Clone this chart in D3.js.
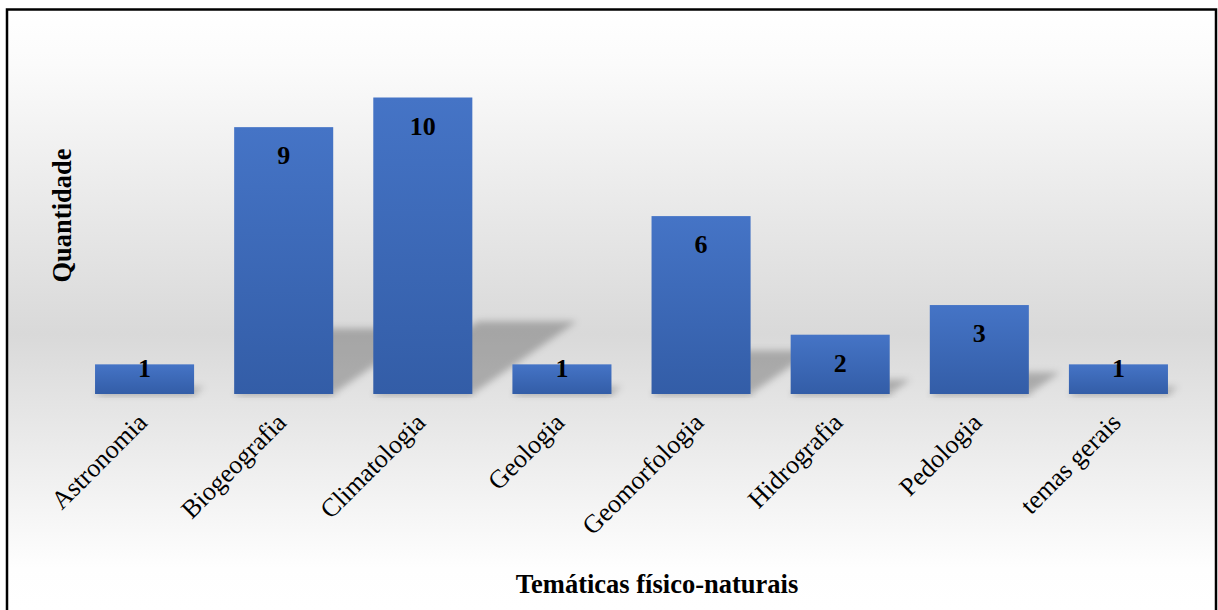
<!DOCTYPE html>
<html>
<head>
<meta charset="utf-8">
<script src="https://cdn.jsdelivr.net/npm/d3@7"></script>
<style>
  html, body { margin: 0; padding: 0; background: #ffffff; }
  svg { display: block; }
  text { font-family: "Liberation Serif", "Times New Roman", serif; fill: #000; }
</style>
</head>
<body>
<svg id="chart" width="1218" height="610"></svg>
<script>
// Número de trabalhos por temática físico-natural
const categories = ["Astronomia", "Biogeografia", "Climatologia", "Geologia",
                    "Geomorfologia", "Hidrografia", "Pedologia", "temas gerais"];
const quantities = [1, 9, 10, 1, 6, 2, 3, 1];
const xTitle = "Temáticas físico-naturais";
const yTitle = "Quantidade";

const svg = d3.select("#chart");
const W = 1218, H = 610;
const frame = { left: 7, top: 9.5, right: 1216 };
const base = 394;

const defs = svg.append("defs");

// Chart area background: white at the top, grey band near the bars, white again below
const bg = defs.append("linearGradient")
  .attr("id", "bgGrad").attr("gradientUnits", "userSpaceOnUse")
  .attr("x1", 0).attr("x2", 0).attr("y1", frame.top).attr("y2", H);
bg.append("stop").attr("offset", 0).attr("stop-color", "#ffffff");
bg.append("stop").attr("offset", 0.09).attr("stop-color", "#fbfbfb");
bg.append("stop").attr("offset", 0.54).attr("stop-color", "#d9d9d9");
bg.append("stop").attr("offset", 0.93).attr("stop-color", "#fefefe");
bg.append("stop").attr("offset", 1).attr("stop-color", "#ffffff");

// Bar fill: lighter blue on top, deeper at the base
const barGrad = defs.append("linearGradient")
  .attr("id", "barGrad").attr("x1", 0).attr("x2", 0).attr("y1", 0).attr("y2", 1);
barGrad.append("stop").attr("offset", 0).attr("stop-color", "#4574c6");
barGrad.append("stop").attr("offset", 1).attr("stop-color", "#335da7");

const blur = defs.append("filter").attr("id", "shadowBlur")
  .attr("x", "-30%").attr("y", "-30%").attr("width", "160%").attr("height", "160%");
blur.append("feGaussianBlur").attr("stdDeviation", 3.5);

svg.append("rect")
  .attr("x", frame.left).attr("y", frame.top)
  .attr("width", frame.right - frame.left).attr("height", H)
  .attr("fill", "url(#bgGrad)")
  .attr("stroke", "#000").attr("stroke-width", 2.5);

const x = d3.scaleBand()
  .domain(categories)
  .range([75, 1188])
  .paddingInner(0.288)
  .paddingOuter(0.144);

const y = d3.scaleLinear().domain([0, 10]).range([base, 97.5]);

const data = categories.map((c, i) => ({ cat: c, val: quantities[i] }));

// Perspective shadows cast up and to the right of each bar
const shadowRise = 0.245, shadowSlant = 1.44;
svg.append("g").attr("filter", "url(#shadowBlur)")
  .selectAll("path").data(data).join("path")
  .attr("d", d => {
    const x0 = x(d.cat), x1 = x0 + x.bandwidth();
    const h = base - y(d.val);
    const sh = h * shadowRise, dx = sh * shadowSlant;
    return `M${x0},${base} L${x1},${base} L${x1 + dx},${base - sh} L${x0 + dx},${base - sh} Z`;
  })
  .attr("fill", "#000").attr("fill-opacity", 0.24);

// Soft line under each bar
svg.append("g").attr("filter", "url(#shadowBlur)")
  .selectAll("rect").data(data).join("rect")
  .attr("x", d => x(d.cat) + 2)
  .attr("y", base - 2)
  .attr("width", x.bandwidth())
  .attr("height", 4)
  .attr("fill", "#000").attr("fill-opacity", 0.12);

svg.append("g")
  .selectAll("rect").data(data).join("rect")
  .attr("x", d => x(d.cat))
  .attr("y", d => y(d.val))
  .attr("width", x.bandwidth())
  .attr("height", d => base - y(d.val))
  .attr("fill", "url(#barGrad)");

// Value labels at the inside end of each bar
svg.append("g")
  .selectAll("text").data(data).join("text")
  .attr("x", d => x(d.cat) + x.bandwidth() / 2)
  .attr("y", d => Math.min(y(d.val) + 37, base - 17))
  .attr("text-anchor", "middle")
  .attr("font-size", 26)
  .attr("font-weight", "bold")
  .text(d => d.val);

// Category axis with labels rotated 45°
const xAxis = svg.append("g")
  .attr("transform", `translate(0,${base})`)
  .call(d3.axisBottom(x).tickSize(0).tickPadding(0));
xAxis.select(".domain").remove();
xAxis.selectAll(".tick text")
  .attr("font-family", "'Liberation Serif', 'Times New Roman', serif")
  .attr("font-size", 26)
  .attr("fill", "#000")
  .attr("text-anchor", "end")
  .attr("dy", null)
  .attr("transform", "translate(4,30) rotate(-45)");

svg.append("text")
  .attr("x", 657).attr("y", 593)
  .attr("text-anchor", "middle")
  .attr("font-size", 26.5)
  .attr("font-weight", "bold")
  .text(xTitle);

svg.append("text")
  .attr("transform", "translate(71,215.5) rotate(-90)")
  .attr("text-anchor", "middle")
  .attr("font-size", 26.5)
  .attr("font-weight", "bold")
  .text(yTitle);
</script>
</body>
</html>
